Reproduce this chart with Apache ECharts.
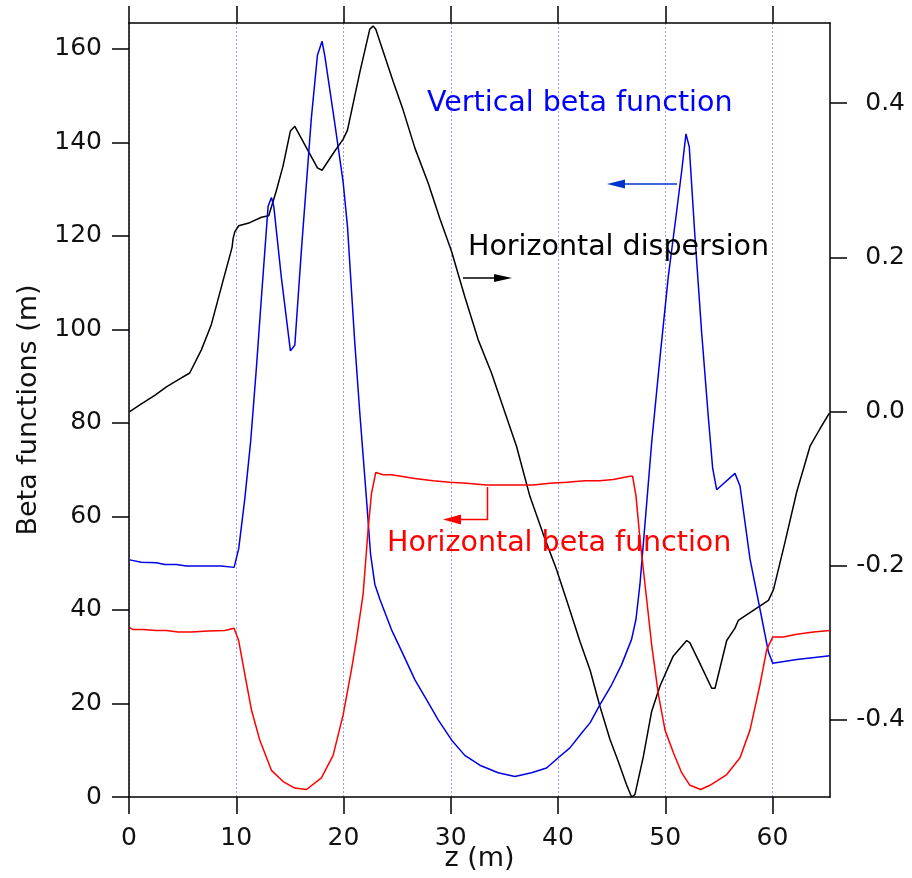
<!DOCTYPE html>
<html>
<head>
<meta charset="utf-8">
<script src="https://cdn.jsdelivr.net/npm/echarts@6/dist/echarts.min.js"></script>
<style>html,body{margin:0;padding:0;background:#fff}#c{width:912px;height:878px}</style>
</head>
<body>
<div id="c"></div>
<script>
// ---- data ----
const zTicks = [0, 10, 20, 30, 40, 50, 60];
const betaTicks = [0, 20, 40, 60, 80, 100, 120, 140, 160];
const dispTicks = [-0.4, -0.2, 0, 0.2, 0.4];

const zV = [0.07,1.15,2.55,3.33,4.42,5.35,8.6,9.8,10.23,10.8,11.35,11.88,12.35,12.97,13.28,13.5,14.2,15.05,15.46,16.08,17.0,17.57,18.0,18.25,19.19,19.96,20.37,21.05,21.52,22.14,22.52,22.92,23.39,24.47,25.56,26.65,27.74,28.83,30.07,31.31,32.71,34.42,35.98,37.53,38.93,40.02,41.11,42.04,43.0,43.9,45.0,45.93,46.86,47.27,47.64,48.11,48.73,49.51,50.28,51.06,51.53,51.93,52.24,52.77,53.39,54.02,54.42,54.79,56.5,56.97,57.9,58.83,59.62,60.02,62.26,65.36];
const betaV = [50.7,50.2,50.1,49.7,49.7,49.4,49.4,49.1,53.1,63.8,76.2,91.8,106.9,126.3,128.2,126.3,111.2,95.4,96.6,117.1,145.1,158.6,161.6,158.6,144.0,131.6,122.0,97.2,82.1,63.8,52.0,45.5,42.3,35.8,30.5,25.1,20.8,16.5,12.2,8.9,6.8,5.2,4.4,5.2,6.2,8.4,10.5,13.2,15.9,19.7,24.0,28.3,33.7,38.0,45.5,58.4,75.7,94.0,111.2,125.2,133.8,141.8,139.0,119.8,99.4,81.1,70.3,65.7,69.2,66.5,50.9,40.2,31.0,28.6,29.4,30.2];

const zH = [0.07,0.38,1.31,2.55,3.49,4.57,5.82,7.37,8.93,9.8,10.23,10.8,11.42,12.19,13.28,14.37,15.46,16.55,17.94,19.03,19.96,20.74,21.21,21.83,22.3,22.61,23.01,23.7,24.47,24.63,26.65,28.36,29.91,31.46,33.33,36.13,37.68,39.24,40.8,42.51,43.9,45.15,46.7,46.95,47.27,47.64,48.11,48.73,49.36,49.98,50.75,51.53,52.3,53.3,54.17,55.73,56.97,57.9,58.83,59.46,60.02,61.01,62.26,63.81,65.36];
const betaH = [36.2,35.8,35.8,35.6,35.6,35.3,35.3,35.5,35.6,36.1,33.4,26.2,18.6,12.2,5.7,3.3,1.9,1.6,4.1,8.9,17.5,27.2,33.7,43.4,57.4,64.9,69.4,68.9,68.9,68.6,68.1,67.6,67.3,67.1,66.7,66.7,66.7,67.1,67.3,67.6,67.6,67.9,68.6,68.6,64.4,55.2,45.5,32.6,21.9,14.3,9.5,5.2,2.5,1.6,2.5,4.8,8.4,14.3,24.0,31.5,34.2,34.2,34.8,35.3,35.6];

const zD = [0.07,1.15,2.4,3.49,4.57,5.66,6.75,7.68,8.62,9.61,9.7,9.86,10.23,11.26,12.35,13.03,13.75,14.37,15.05,15.46,16.55,17.57,18.0,19.19,19.96,20.37,21.52,22.45,22.76,23.01,23.7,24.63,25.56,26.65,27.9,28.99,30.07,31.31,32.56,33.8,34.9,36.13,37.38,38.62,39.86,40.95,42.04,43.0,43.9,44.84,45.62,46.39,46.86,47.17,47.95,48.73,49.51,50.75,52.0,52.3,53.24,54.33,54.64,55.73,56.5,56.81,58.21,59.62,60.09,61.17,62.26,63.5,64.44,65.3];
const disp = [0,0.0098,0.021,0.032,0.041,0.050,0.080,0.113,0.162,0.213,0.224,0.233,0.241,0.245,0.252,0.254,0.287,0.319,0.364,0.370,0.342,0.316,0.313,0.338,0.353,0.365,0.440,0.496,0.500,0.496,0.467,0.428,0.391,0.342,0.296,0.250,0.208,0.149,0.093,0.050,0.005,-0.045,-0.110,-0.159,-0.205,-0.251,-0.298,-0.336,-0.382,-0.425,-0.454,-0.484,-0.500,-0.497,-0.448,-0.389,-0.356,-0.317,-0.297,-0.300,-0.327,-0.359,-0.359,-0.297,-0.281,-0.271,-0.258,-0.245,-0.231,-0.169,-0.104,-0.045,-0.022,-0.002];

const labels = {
  vert: 'Vertical beta function',
  disp: 'Horizontal dispersion',
  horiz: 'Horizontal beta function',
  yName: 'Beta functions (m)',
  xName: 'z (m)'
};

const pairs = (xs, ys) => xs.map((x, i) => [x, ys[i]]);
const FONT = 'DejaVu Sans';
const axisLineStyle = { color: '#000', width: 1.5 };

const chart = echarts.init(document.getElementById('c'), null, { renderer: 'canvas' });
const option = {
  animation: false,
  backgroundColor: '#fff',
  textStyle: { fontFamily: FONT },
  grid: { left: 129, right: 82, top: 23, bottom: 81, outerBoundsMode: 'none', containLabel: false },
  xAxis: [
    {
      type: 'value', position: 'bottom', min: 0, max: 65.36, interval: 10,
      name: labels.xName, nameLocation: 'middle', nameGap: 48, nameMoveOverlap: false,
      nameTextStyle: { fontFamily: FONT, fontSize: 27, color: '#111' },
      axisLine: { onZero: false, lineStyle: axisLineStyle },
      axisTick: { length: 17, lineStyle: { color: '#000', width: 1.5 }, customValues: zTicks },
      axisLabel: { fontFamily: FONT, fontSize: 25, color: '#111', margin: 29, customValues: zTicks },
      splitLine: { show: true, lineStyle: { color: '#9a9aff', type: [2, 2], width: 1 } }
    },
    {
      type: 'value', position: 'top', min: 0, max: 65.36, interval: 10,
      axisLine: { onZero: false, lineStyle: axisLineStyle },
      axisTick: { length: 17, lineStyle: { color: '#000', width: 1.5 }, customValues: zTicks },
      axisLabel: { show: false },
      splitLine: { show: false }
    }
  ],
  yAxis: [
    {
      type: 'value', position: 'left', min: 0, max: 165.5, interval: 20,
      name: labels.yName, nameLocation: 'middle', nameGap: 87, nameRotate: 90, nameMoveOverlap: false,
      nameTextStyle: { fontFamily: FONT, fontSize: 27, color: '#111' },
      axisLine: { show: true, onZero: false, lineStyle: axisLineStyle },
      axisTick: { show: true, length: 17, lineStyle: { color: '#000', width: 1.5 }, customValues: betaTicks },
      axisLabel: { fontFamily: FONT, fontSize: 25, color: '#111', margin: 27, customValues: betaTicks },
      splitLine: { show: false }
    },
    {
      type: 'value', position: 'right', min: -0.5, max: 0.504,
      axisLine: { show: true, onZero: false, lineStyle: axisLineStyle },
      axisTick: { show: true, length: 17, lineStyle: { color: '#000', width: 1.5 }, customValues: dispTicks },
      axisLabel: { fontFamily: FONT, fontSize: 25, color: '#111', margin: 75, align: 'right',
        customValues: dispTicks, formatter: v => v.toFixed(1) },
      splitLine: { show: false }
    }
  ],
  series: [
    { type: 'line', name: 'disp', xAxisIndex: 0, yAxisIndex: 1, data: pairs(zD, disp),
      showSymbol: false, lineStyle: { color: '#000', width: 1.5 }, z: 3 },
    { type: 'line', name: 'vert', xAxisIndex: 0, yAxisIndex: 0, data: pairs(zV, betaV),
      showSymbol: false, lineStyle: { color: '#0000e6', width: 1.5 }, z: 4 },
    { type: 'line', name: 'horiz', xAxisIndex: 0, yAxisIndex: 0, data: pairs(zH, betaH),
      showSymbol: false, lineStyle: { color: '#ff0000', width: 1.5 }, z: 5 }
  ],
  graphic: [
    { type: 'text', x: 427, y: 104, z: 10,
      style: { text: labels.vert, fill: '#0000ff', font: '28.5px "DejaVu Sans"', verticalAlign: 'middle' } },
    { type: 'text', x: 468, y: 248, z: 10,
      style: { text: labels.disp, fill: '#000', font: '28.5px "DejaVu Sans"', verticalAlign: 'middle' } },
    { type: 'text', x: 387, y: 544, z: 10,
      style: { text: labels.horiz, fill: '#ff0000', font: '28.5px "DejaVu Sans"', verticalAlign: 'middle' } },
    // blue arrow (points left)
    { type: 'line', z: 10, shape: { x1: 677, y1: 184, x2: 620, y2: 184 }, style: { stroke: '#0033cc', lineWidth: 1.5 } },
    { type: 'polygon', z: 10, shape: { points: [[607, 184], [625, 179.5], [625, 188.5]] }, style: { fill: '#0033cc' } },
    // black arrow (points right)
    { type: 'line', z: 10, shape: { x1: 463, y1: 278, x2: 500, y2: 278 }, style: { stroke: '#000', lineWidth: 1.5 } },
    { type: 'polygon', z: 10, shape: { points: [[512, 278], [494, 274], [494, 282]] }, style: { fill: '#000' } },
    // red arrow (down then left)
    { type: 'polyline', z: 10, shape: { points: [[487.5, 487], [487.5, 519.5], [455, 519.5]] }, style: { stroke: '#ff0000', lineWidth: 1.5, fill: null } },
    { type: 'polygon', z: 10, shape: { points: [[443, 519.5], [461, 514.5], [461, 524.5]] }, style: { fill: '#ff0000' } }
  ]
};
chart.setOption(option);
</script>
</body>
</html>
